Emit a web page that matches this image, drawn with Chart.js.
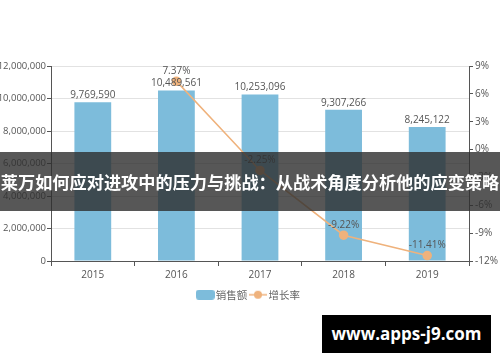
<!DOCTYPE html>
<html>
<head>
<meta charset="utf-8">
<script src="https://cdn.jsdelivr.net/npm/chart.js@4"></script>
<style>
  html, body { margin: 0; padding: 0; background: #fff; }
  #wrap { position: relative; width: 500px; height: 362px; overflow: hidden; }
  #salesChart { position: absolute; left: 0; top: 0; }
  .banner {
    position: absolute; left: 0; top: 152px; width: 500px; height: 59px;
    background: rgba(45, 45, 45, 0.8);
    color: #fff; font-family: "Noto Sans CJK SC", sans-serif; font-weight: bold;
    font-size: 17.2px; line-height: 59px; white-space: nowrap; text-align: center;
  }
  .mark {
    position: absolute; left: 322px; top: 315px; width: 169px; height: 38px;
    background: #000; color: #fff; font-family: "Open Sans", "DejaVu Sans", sans-serif;
    font-weight: bold; font-size: 17px; line-height: 38px; text-align: center;
  }
</style>
</head>
<body>
<div id="wrap">
  <canvas id="salesChart" width="500" height="362"></canvas>
  <div class="banner">莱万如何应对进攻中的压力与挑战：从战术角度分析他的应变策略</div>
  <div class="mark">www.apps-j9.com</div>
</div>
<script>
const years = ['2015', '2016', '2017', '2018', '2019'];
const sales = [9769590, 10489561, 10253096, 9307266, 8245122];
const growth = [null, 7.37, -2.25, -9.22, -11.41];

function fmt(n) {
    return n.toString().replace(/\B(?=(\d{3})+(?!\d))/g, ',');
}

// little legend markers
function barMarker() {
    var c = document.createElement('canvas');
    c.width = 19; c.height = 10;
    var g = c.getContext('2d');
    g.fillStyle = '#7dbcdb';
    g.beginPath();
    g.roundRect(0, 0, 19, 10, 3);
    g.fill();
    return c;
}
function lineMarker() {
    var c = document.createElement('canvas');
    c.width = 18; c.height = 10;
    var g = c.getContext('2d');
    g.strokeStyle = '#efb27c';
    g.lineWidth = 1.5;
    g.beginPath(); g.moveTo(0, 5); g.lineTo(18, 5); g.stroke();
    g.fillStyle = '#efb27c';
    g.beginPath(); g.arc(9, 5, 4, 0, Math.PI * 2); g.fill();
    return c;
}

const valueLabels = {
    id: 'valueLabels',
    afterDatasetsDraw(chart) {
        var ctx = chart.ctx;
        ctx.save();
        ctx.font = '10px "Open Sans", sans-serif';
        ctx.fillStyle = '#555';
        ctx.textAlign = 'center';
        ctx.textBaseline = 'bottom';
        chart.data.datasets.forEach(function(ds, i) {
            var meta = chart.getDatasetMeta(i);
            meta.data.forEach(function(el, j) {
                var v = ds.data[j];
                if (v == null) return;
                if (ds.type == 'line') {
                    ctx.fillText(v.toFixed(2) + '%', el.x, el.y - 5);
                } else {
                    ctx.fillText(fmt(v), el.x, el.y - 2);
                }
            });
        });
        ctx.restore();
    }
};

var ctx = document.getElementById('salesChart').getContext('2d');
var salesChart = new Chart(ctx, {
    data: {
        labels: years,
        datasets: [{
            type: 'line',
            label: '增长率',
            data: growth,
            yAxisID: 'y1',
            borderColor: '#efb27c',
            backgroundColor: '#efb27c',
            borderWidth: 1.5,
            pointRadius: 4,
            pointHoverRadius: 4,
            order: 0
        }, {
            type: 'bar',
            label: '销售额',
            data: sales,
            yAxisID: 'y',
            backgroundColor: '#7dbcdb',
            barPercentage: 0.44,
            categoryPercentage: 1,
            order: 1
        }]
    },
    options: {
        responsive: false,
        animation: false,
        layout: { padding: { top: 66, left: 0, right: 0, bottom: 52 } },
        plugins: {
            tooltip: { enabled: false },
            legend: {
                position: 'bottom',
                reverse: true,
                labels: {
                    usePointStyle: true,
                    boxHeight: 10,
                    font: { family: '"Noto Sans CJK SC", sans-serif', size: 10.5 },
                    color: '#666',
                    padding: 5.5,
                    generateLabels: function(chart) {
                        return chart.data.datasets.map(function(ds, i) {
                            return {
                                text: ds.label,
                                datasetIndex: i,
                                pointStyle: ds.type == 'line' ? lineMarker() : barMarker(),
                                fontColor: '#666',
                                lineWidth: 0
                            };
                        });
                    }
                }
            }
        },
        scales: {
            x: {
                offset: true,
                grid: { display: true, offset: true, drawOnChartArea: false, color: '#555', tickLength: 5 },
                border: { color: '#555' },
                ticks: { color: '#555', font: { size: 10, family: '"Open Sans", sans-serif' }, padding: 3 }
            },
            y: {
                position: 'left',
                min: 0,
                max: 12000000,
                afterFit: function(s) { s.width = 51; },
                grid: { color: '#e2e2e2', tickLength: 4, tickColor: '#555' },
                border: { color: '#555' },
                ticks: {
                    stepSize: 2000000,
                    color: '#555',
                    font: { size: 9.5, family: '"Open Sans", sans-serif' },
                    padding: 1,
                    callback: function(v) { return fmt(v); }
                }
            },
            y1: {
                position: 'right',
                min: -12,
                max: 9,
                afterFit: function(s) { s.width = 31; },
                grid: { drawOnChartArea: false, tickLength: 4, color: '#555' },
                border: { color: '#555' },
                ticks: {
                    stepSize: 3,
                    color: '#555',
                    font: { size: 10, family: '"Open Sans", sans-serif' },
                    padding: 2,
                    callback: function(v) { return v + '%'; }
                }
            }
        }
    },
    plugins: [valueLabels]
});
</script>
</body>
</html>
